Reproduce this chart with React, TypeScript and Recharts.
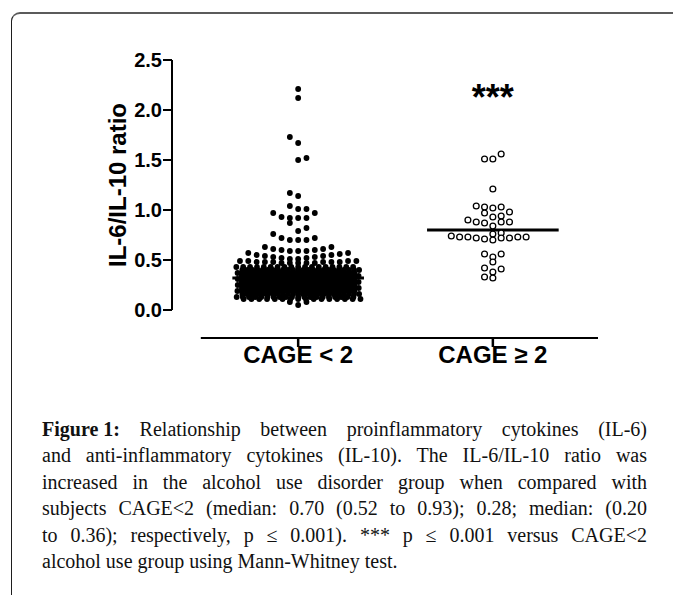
import {
  ReferenceDot,
  ReferenceLine,
  Scatter,
  ScatterChart,
  XAxis,
  YAxis,
} from "recharts";

// categories, ticks, medians
const groups = ["CAGE < 2", "CAGE \u2265 2"];
const groupX = [1, 2];
const yTicks = [0, 0.5, 1.0, 1.5, 2.0, 2.5];
const medians = [0.32, 0.8];
const sigLabel = "***";
const sigY = 2.13;

// CAGE < 2, swarm rows from the top (each row = values drawn side by side)
const cageLowRows: number[][] = [
  [2.21],
  [2.12],
  [1.73, 1.67],
  [1.52, 1.5],
  [1.17, 1.14],
  [1.04, 1.01, 1.01],
  [0.97, 0.97, 0.93, 0.92, 0.92, 0.92],
  [0.87, 0.82, 0.79],
  [0.76, 0.72, 0.72, 0.7, 0.7, 0.7],
  [0.63, 0.63, 0.61, 0.61, 0.6, 0.6, 0.59, 0.59, 0.59],
  [0.57, 0.57, 0.56, 0.55, 0.55, 0.54, 0.54, 0.53, 0.53, 0.52, 0.52, 0.51, 0.51],
  [0.49, 0.49, 0.49, 0.49, 0.48, 0.48, 0.48, 0.48, 0.48, 0.48, 0.47, 0.47, 0.47, 0.47, 0.47],
];
// the packed band: [value, how many dots in that row]
const cageLowBand: [number, number][] = [
  [0.43, 18], [0.4, 24], [0.37, 28], [0.34, 30], [0.31, 30], [0.28, 30],
  [0.25, 30], [0.22, 28], [0.19, 26], [0.16, 24], [0.13, 20], [0.11, 16],
];
const cageLowTail: number[][] = [[0.08, 0.08, 0.05]];

// CAGE >= 2
const cageHighRows: number[][] = [
  [1.56, 1.51, 1.51],
  [1.21],
  [1.04, 1.03, 1.03, 1.02],
  [0.98, 0.97, 0.94, 0.93],
  [0.9, 0.88, 0.88, 0.88, 0.87, 0.84],
  [0.77, 0.76],
  [0.74, 0.73, 0.73, 0.73, 0.73, 0.72, 0.72, 0.72, 0.71, 0.7],
  [0.56, 0.56, 0.53],
  [0.48],
  [0.42, 0.41, 0.38],
  [0.33, 0.32],
];

const captionLead = "Figure 1:";
const captionLines = [
  " Relationship between proinflammatory cytokines (IL-6)",
  "and anti-inflammatory cytokines (IL-10). The IL-6/IL-10 ratio was",
  "increased in the alcohol use disorder group when compared with",
  "subjects CAGE<2 (median: 0.70 (0.52 to 0.93); 0.28; median: (0.20",
  "to 0.36); respectively, p \u2264 0.001). *** p \u2264 0.001 versus CAGE<2",
  "alcohol use group using Mann-Whitney test.",
];

const xDomain: [number, number] = [0.352, 2.54];
const axisFloor = -0.28; // category axis sits below zero
const COL = 0.0427; // one dot column, in x units
const MAX_SPAN = 0.6; // widest row before dots start overlapping
const HALF_LINE = 0.338;

type Pt = { x: number; y: number };

// GraphPad-like scatter: lowest value in the middle, then alternate sides
function swarm(rows: number[][], centre: number): Pt[] {
  const pts: Pt[] = [];
  rows.forEach((row, r) => {
    const vals = [...row].sort((a, b) => a - b);
    const step = Math.min(COL, MAX_SPAN / Math.max(vals.length - 1, 1));
    const dir = r % 2 === 0 ? -1 : 1;
    vals.forEach((v, k) => {
      const slot = k === 0 ? 0 : (k % 2 === 1 ? dir : -dir) * Math.ceil(k / 2);
      pts.push({ x: centre + slot * step, y: v });
    });
  });
  return pts;
}

const lowRows = [
  ...cageLowRows,
  ...cageLowBand.map(([v, n]) => new Array(n).fill(v) as number[]),
  ...cageLowTail,
];
const lowData = swarm(lowRows, groupX[0]);
const highData = swarm(cageHighRows, groupX[1]);

const solidDot = (p: any) => <circle cx={p.cx} cy={p.cy} r={2.9} fill="#000" />;
const openDot = (p: any) => (
  <circle cx={p.cx} cy={p.cy} r={2.9} fill="#fff" stroke="#000" strokeWidth={1.3} />
);

const CategoryTick = ({ x, y, payload }: any) => (
  <g>
    <line x1={x} x2={x} y1={y + 28} y2={y + 37} stroke="#000" strokeWidth={2.5} />
    <text x={x} y={y + 53} textAnchor="middle" fontSize={24} fontWeight="bold" fill="#000">
      {groups[groupX.indexOf(payload.value)]}
    </text>
  </g>
);

export default function App() {
  return (
    <div
      style={{
        position: "relative",
        width: 665,
        height: 587,
        overflow: "hidden",
        fontFamily: "'Liberation Sans', Arial, sans-serif",
      }}
    >
      <div
        style={{
          position: "absolute",
          left: 3,
          top: 4,
          width: 720,
          height: 640,
          borderTop: "2px solid #5b5b5b",
          borderLeft: "1.6px solid #1e1e1e",
          borderTopLeftRadius: 9,
        }}
      />
      <div style={{ position: "absolute", left: 0, top: 0 }}>
        <ScatterChart
          width={665}
          height={370}
          margin={{ top: 52, right: 75, bottom: 8, left: 104 }}
        >
          <XAxis
            type="number"
            dataKey="x"
            domain={xDomain}
            allowDataOverflow
            ticks={groupX}
            axisLine={false}
            tickLine={false}
            tickSize={0}
            tickMargin={0}
            height={60}
            tick={<CategoryTick />}
          />
          <YAxis
            type="number"
            dataKey="y"
            domain={[0, 2.5]}
            allowDataOverflow
            ticks={yTicks}
            interval={0}
            width={60}
            tickFormatter={(v: number) => v.toFixed(1)}
            axisLine={{ stroke: "#000", strokeWidth: 2 }}
            tickLine={{ stroke: "#000", strokeWidth: 2 }}
            tickSize={9}
            tickMargin={1}
            tick={{ fill: "#000", fontSize: 20, fontWeight: "bold" }}
            label={{
              value: "IL-6/IL-10 ratio",
              angle: -90,
              position: "insideLeft",
              offset: 5,
              style: { textAnchor: "middle", fontSize: 24, fontWeight: "bold", fill: "#000" },
            }}
          />
          <Scatter data={lowData} shape={solidDot} isAnimationActive={false} />
          <Scatter data={highData} shape={openDot} isAnimationActive={false} />
          {medians.map((m, i) => (
            <ReferenceLine
              key={i}
              segment={[
                { x: groupX[i] - HALF_LINE, y: m },
                { x: groupX[i] + HALF_LINE, y: m },
              ]}
              stroke="#000"
              strokeWidth={3}
            />
          ))}
          <ReferenceLine
            segment={[
              { x: 0.5, y: axisFloor },
              { x: xDomain[1], y: axisFloor },
            ]}
            stroke="#000"
            strokeWidth={2}
            ifOverflow="visible"
          />
          <ReferenceDot
            x={groupX[1]}
            y={sigY}
            r={0}
            fill="none"
            stroke="none"
            label={{ value: sigLabel, position: "center", fontSize: 36, fontWeight: "bold", fill: "#000" }}
          />
        </ScatterChart>
      </div>
      <div
        style={{
          position: "absolute",
          left: 34,
          top: 408,
          width: 605,
          fontFamily: "'Liberation Serif', 'Times New Roman', serif",
          fontSize: 20,
          lineHeight: "26.4px",
          color: "#111",
        }}
      >
        {captionLines.map((line, i) => (
          <div
            key={i}
            style={{
              textAlign: "justify",
              textAlignLast: i < captionLines.length - 1 ? "justify" : "left",
              whiteSpace: "nowrap",
            }}
          >
            {i === 0 && <b style={{ display: "inline-block" }}>{captionLead}</b>}
            {line}
          </div>
        ))}
      </div>
    </div>
  );
}
